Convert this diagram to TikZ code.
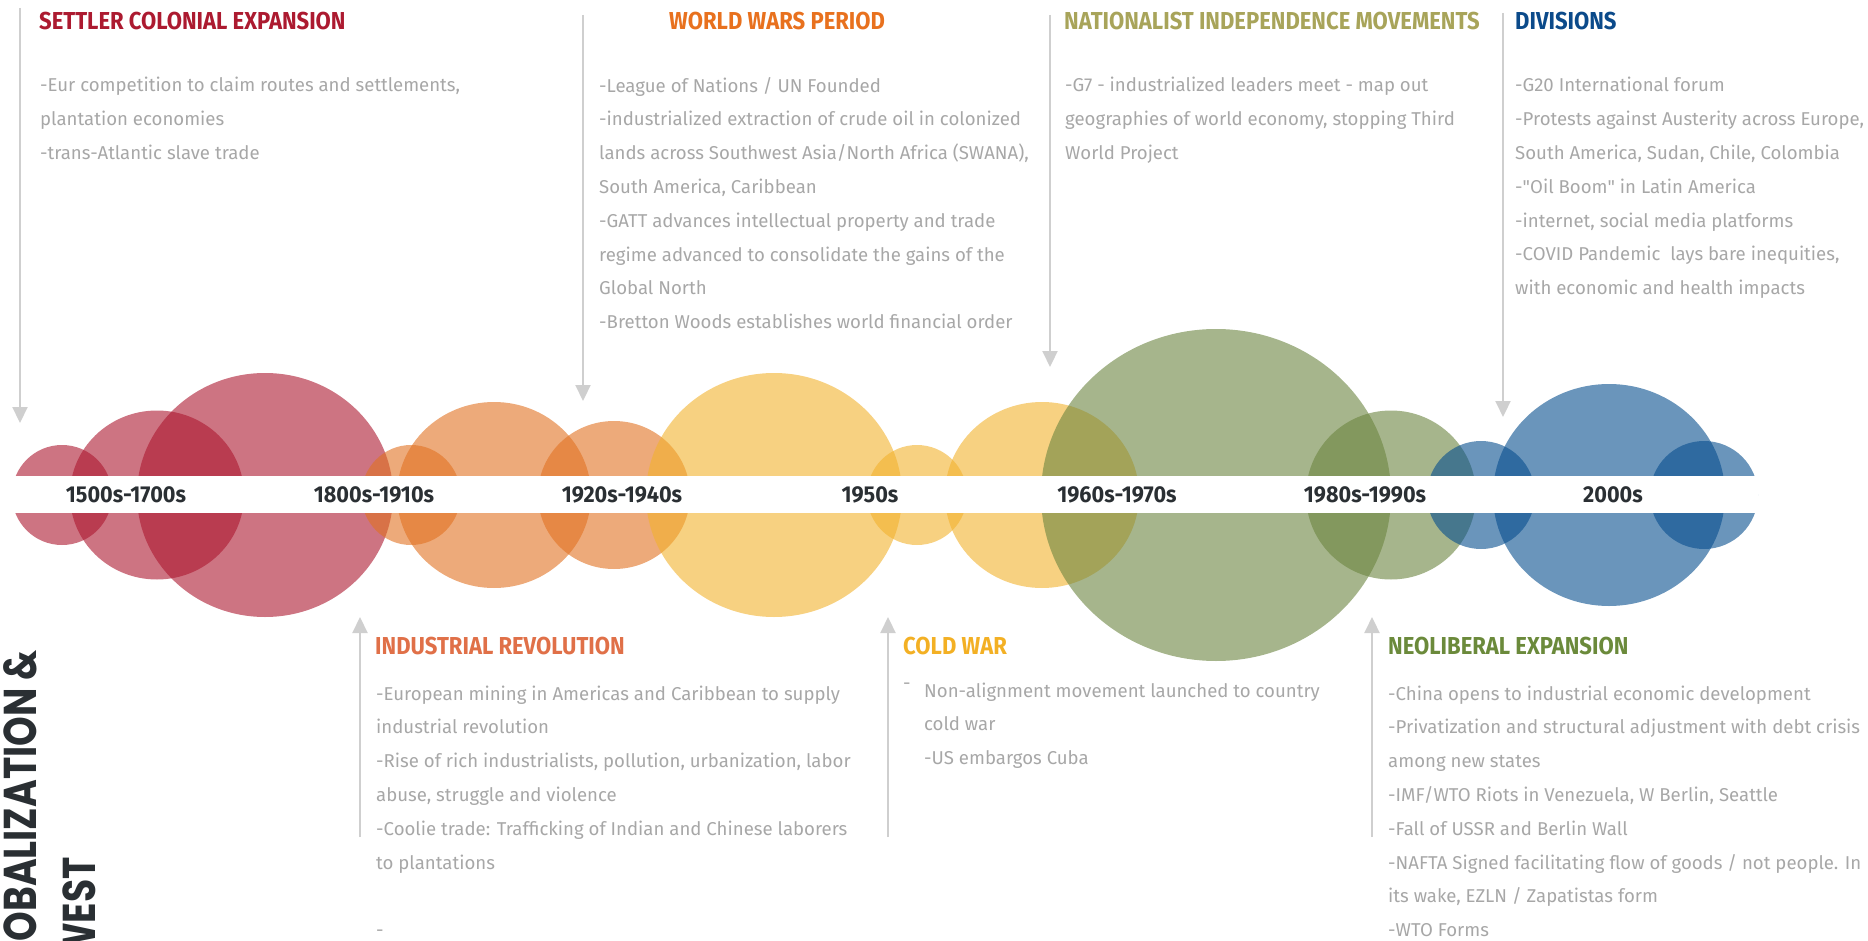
\documentclass[tikz,border=0pt]{standalone}
\usepackage{fontspec}
\setmainfont{Fira Sans}
\newfontfamily\headfont{Fira Sans}[FakeStretch=0.9]
\newfontfamily\yearfont{Fira Sans}[FakeStretch=0.94]
\newfontfamily\vertfont{Poppins}[FakeStretch=0.82]
\newfontfamily\plainquote{Fira Sans}[Ligatures=TeXOff]
\newcommand{\straightquote}{{\plainquote\symbol{34}}}
\usetikzlibrary{arrows.meta}

\definecolor{txtgray}{HTML}{A7A7A7}
\definecolor{linegray}{HTML}{CFCFCF}
\definecolor{yeardark}{HTML}{2A2F33}
\definecolor{redbase}{HTML}{AC172F}
\definecolor{orangebase}{HTML}{E17121}
\definecolor{yellowbase}{HTML}{F2B22D}
\definecolor{greenbase}{HTML}{6B843F}
\definecolor{bluebase}{HTML}{074E8E}
\definecolor{settlerhd}{HTML}{AC1A30}
\definecolor{warshd}{HTML}{E8711E}
\definecolor{nationhd}{HTML}{A8A45A}
\definecolor{divhd}{HTML}{0B4A8A}
\definecolor{industhd}{HTML}{E07048}
\definecolor{coldhd}{HTML}{F3B024}
\definecolor{neohd}{HTML}{6B8A3B}

\tikzset{
  bubble/.style={fill=#1, fill opacity=0.6},
  eventarrow/.style={draw=linegray, line width=2.2pt, -{Triangle[width=15pt,length=16pt]}},
  heading/.style={anchor=base west, inner sep=0pt, text=#1,
    font=\headfont\bfseries\fontsize{24.5}{24.5}\selectfont},
  % base of a notes node is the baseline of its last line
  notes/.style={anchor=base west, inner sep=0pt, align=left, text=txtgray,
    font=\fontsize{18.6}{33.8}\selectfont},
  yearlabel/.style={anchor=base, inner sep=0pt, text=yeardark,
    font=\yearfont\bfseries\fontsize{23}{23}\selectfont},
  vertlabel/.style={rotate=90, anchor=base east, inner sep=0pt, text=yeardark,
    font=\vertfont\bfseries\fontsize{46}{46}\selectfont},
}

\begin{document}
\begin{tikzpicture}[x=1pt, y=-1pt]
\useasboundingbox (0,0) rectangle (1868,941);

% bubbles
\fill[bubble=redbase] (62,495) ellipse [x radius=50, y radius=50];
\fill[bubble=redbase] (157,495) ellipse [x radius=87, y radius=84.5];
\fill[bubble=redbase] (265,495) ellipse [x radius=128, y radius=122];
\fill[bubble=orangebase] (411,495) ellipse [x radius=49.5, y radius=50];
\fill[bubble=orangebase] (494,495) ellipse [x radius=97, y radius=93];
\fill[bubble=orangebase] (614,495) ellipse [x radius=76, y radius=74];
\fill[bubble=yellowbase] (774,495) ellipse [x radius=128, y radius=122];
\fill[bubble=yellowbase] (917,495) ellipse [x radius=50, y radius=50];
\fill[bubble=yellowbase] (1042,495) ellipse [x radius=97, y radius=93];
\fill[bubble=greenbase] (1216,495) ellipse [x radius=175, y radius=166];
\fill[bubble=greenbase] (1391,495) ellipse [x radius=85, y radius=84.5];
\fill[bubble=bluebase] (1481,495) ellipse [x radius=54, y radius=54];
\fill[bubble=bluebase] (1609,495) ellipse [x radius=116, y radius=111];
\fill[bubble=bluebase] (1704,495) ellipse [x radius=54, y radius=54];

% band
\fill[white] (12,476) rectangle (1758,513);

\node[yearlabel] (y1500) at (126,502) {1500s-1700s};
\node[yearlabel] (y1800) at (374,502) {1800s-1910s};
\node[yearlabel] (y1920) at (622,502) {1920s-1940s};
\node[yearlabel] (y1950) at (870,502) {1950s};
\node[yearlabel] (y1960) at (1117,502) {1960s-1970s};
\node[yearlabel] (y1980) at (1365,502) {1980s-1990s};
\node[yearlabel] (y2000) at (1613,502) {2000s};

% arrows
\coordinate (settlertop) at (20,8);
\coordinate (settlertip) at (20,423);
\coordinate (warstop) at (583,15);
\coordinate (warstip) at (583,401);
\coordinate (nationtop) at (1050,15);
\coordinate (nationtip) at (1050,367);
\coordinate (divtop) at (1503,13);
\coordinate (divtip) at (1503,417);
\coordinate (industbot) at (360,837);
\coordinate (industtip) at (360,617);
\coordinate (coldbot) at (888,837);
\coordinate (coldtip) at (888,617);
\coordinate (neobot) at (1372,837);
\coordinate (neotip) at (1372,617);
\draw[eventarrow] (settlertop) -- (settlertip);
\draw[eventarrow] (warstop) -- (warstip);
\draw[eventarrow] (nationtop) -- (nationtip);
\draw[eventarrow] (divtop) -- (divtip);
\draw[eventarrow] (industbot) -- (industtip);
\draw[eventarrow] (coldbot) -- (coldtip);
\draw[eventarrow] (neobot) -- (neotip);

% top row
\node[heading=settlerhd] (settler) at (39,30) {SETTLER COLONIAL EXPANSION};
\node[notes] (settlernotes) at (40,159.6) {-Eur competition to claim routes and settlements,\\
plantation economies\\
-trans-Atlantic slave trade};

\node[heading=warshd] (wars) at (669,30) {WORLD WARS PERIOD};
\node[notes] (warsnotes) at (599,328.6) {-League of Nations / UN Founded\\
-industrialized extraction of crude oil in colonized\\
lands across Southwest Asia/North Africa (SWANA),\\
South America, Caribbean\\
-GATT advances intellectual property and trade\\
regime advanced to consolidate the gains of the\\
Global North\\
-Bretton Woods establishes world financial order};

\node[heading=nationhd] (nation) at (1064,30) {NATIONALIST INDEPENDENCE MOVEMENTS};
\node[notes] (nationnotes) at (1065,159.6) {-G7 - industrialized leaders meet - map out\\
geographies of world economy, stopping Third\\
World Project};

\node[heading=divhd] (div) at (1515,30) {DIVISIONS};
\node[notes] (divnotes) at (1515,294.8) {-G20 International forum\\
-Protests against Austerity across Europe,\\
South America, Sudan, Chile, Colombia\\
-\straightquote Oil Boom\straightquote{} in Latin America\\
-internet, social media platforms\\
-COVID Pandemic\ \ lays bare inequities,\\
with economic and health impacts};

% bottom row
\node[heading=industhd] (indust) at (375,654) {INDUSTRIAL REVOLUTION};
\node[notes] (industnotes) at (376,936.6) {-European mining in Americas and Caribbean to supply\\
industrial revolution\\
-Rise of rich industrialists, pollution, urbanization, labor\\
abuse, struggle and violence\\
-Coolie trade: Trafficking of Indian and Chinese laborers\\
to plantations\\
~\\
-};

\node[heading=coldhd] (cold) at (903,654) {COLD WAR};
\node[notes] (colddash) at (903,689) {-};
\node[notes] (coldnotes) at (924,764.6) {Non-alignment movement launched to country\\
cold war\\
-US embargos Cuba};

\node[heading=neohd] (neo) at (1388,654) {NEOLIBERAL EXPANSION};
\node[notes] (neonotes) at (1388,936.6) {-China opens to industrial economic development\\
-Privatization and structural adjustment with debt crisis\\
among new states\\
-IMF/WTO Riots in Venezuela, W Berlin, Seattle\\
-Fall of USSR and Berlin Wall\\
-NAFTA Signed facilitating flow of goods / not people. In\\
its wake, EZLN / Zapatistas form\\
-WTO Forms};

% side title
\node[vertlabel] (globtitle) at (36,650) {OBALIZATION \&};
\node[vertlabel] (westtitle) at (95,857) {WEST};
\end{tikzpicture}
\end{document}
